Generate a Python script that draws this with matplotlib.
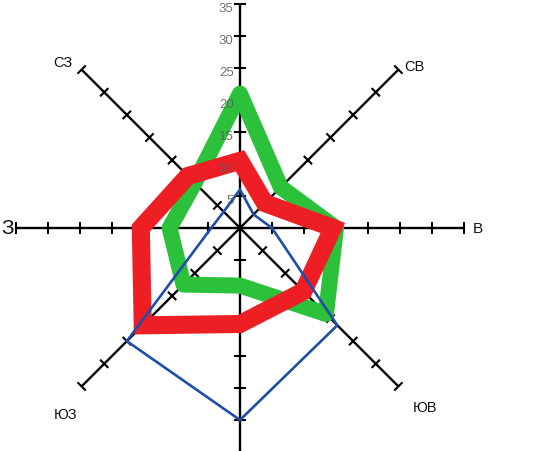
import numpy as np
import matplotlib
matplotlib.use("Agg")
import matplotlib.pyplot as plt
from matplotlib.patches import Polygon

plt.rcParams['font.family'] = ['Liberation Sans', 'DejaVu Sans']

# ---- data ----
directions = ['С', 'СВ', 'В', 'ЮВ', 'Ю', 'ЮЗ', 'З', 'СЗ']
bearings_deg = [0, 45, 90, 135, 180, 225, 270, 315]
green_vals = [21, 9, 15, 19, 9, 12.5, 11, 10]
red_vals = [10.5, 5.5, 14.5, 14, 15, 21.5, 15.5, 11.5]
blue_vals = [6, 3, 5, 21.5, 30, 25, 4.5, 3.6]
tick_values = [5, 10, 15, 20, 25, 30, 35]
tick_labels = ['5', '10', '15', '20', '25', '30', '35']
axis_max = 35
shown_labels = ['', 'СВ', 'В', 'ЮВ', '', 'ЮЗ', 'З', 'СЗ']

# ---- layout ----
W, H = 534, 452
cx, cy, scale = 240, 229, 6.4  # centre in px, px per unit
fig = plt.figure(figsize=(W / 100, H / 100), dpi=100)
ax = fig.add_axes([0, 0, 1, 1])
ax.set_xlim(-cx / scale, (W - cx) / scale)
ax.set_ylim(-(H - cy) / scale, cy / scale)
ax.axis('off')

th = np.radians(bearings_deg)
ux, uy = np.sin(th), np.cos(th)

# axes with ticks
tick_half = 0.75
for i in range(len(directions)):
    ax.plot([0, axis_max * ux[i]], [0, axis_max * uy[i]], color='black', lw=1.7,
            solid_capstyle='butt', zorder=1)
    px, py = -uy[i], ux[i]
    for t in tick_values:
        bx, by = t * ux[i], t * uy[i]
        ax.plot([bx - tick_half * px, bx + tick_half * px],
                [by - tick_half * py, by + tick_half * py],
                color='black', lw=1.5, zorder=1)

# tick labels on the north axis
for t, lab in zip(tick_values, tick_labels):
    ax.text(-1.0, t - 0.6, lab, ha='right', va='center', fontsize=9.5,
            color='#5a5a5a', alpha=0.85, zorder=6)

def ring(vals, color, lw, join, z):
    v = np.array(vals, dtype=float)
    pts = np.column_stack([v * ux, v * uy])
    ax.add_patch(Polygon(pts, closed=True, fill=False, edgecolor=color,
                         lw=lw, joinstyle=join, zorder=z))

ring(green_vals, '#2cc13a', 11.5, 'round', 2)
ring(red_vals, '#ee1f24', 13, 'miter', 3)
ring(blue_vals, '#1f4ea8', 1.9, 'miter', 4)

# direction labels
label_pos = {
    'СВ': (27.3, 25.3, 10.5),
    'В': (37.2, 0.0, 11),
    'ЮВ': (28.9, -28.0, 10.5),
    'ЮЗ': (-27.2, -29.1, 10.5),
    'З': (-36.3, 0.0, 15),
    'СЗ': (-27.7, 25.9, 10.5),
}
for lab in shown_labels:
    if lab:
        x, y, fs = label_pos[lab]
        ax.text(x, y, lab, ha='center', va='center', fontsize=fs, color='#111111')

fig.savefig('out.png', dpi=100)
